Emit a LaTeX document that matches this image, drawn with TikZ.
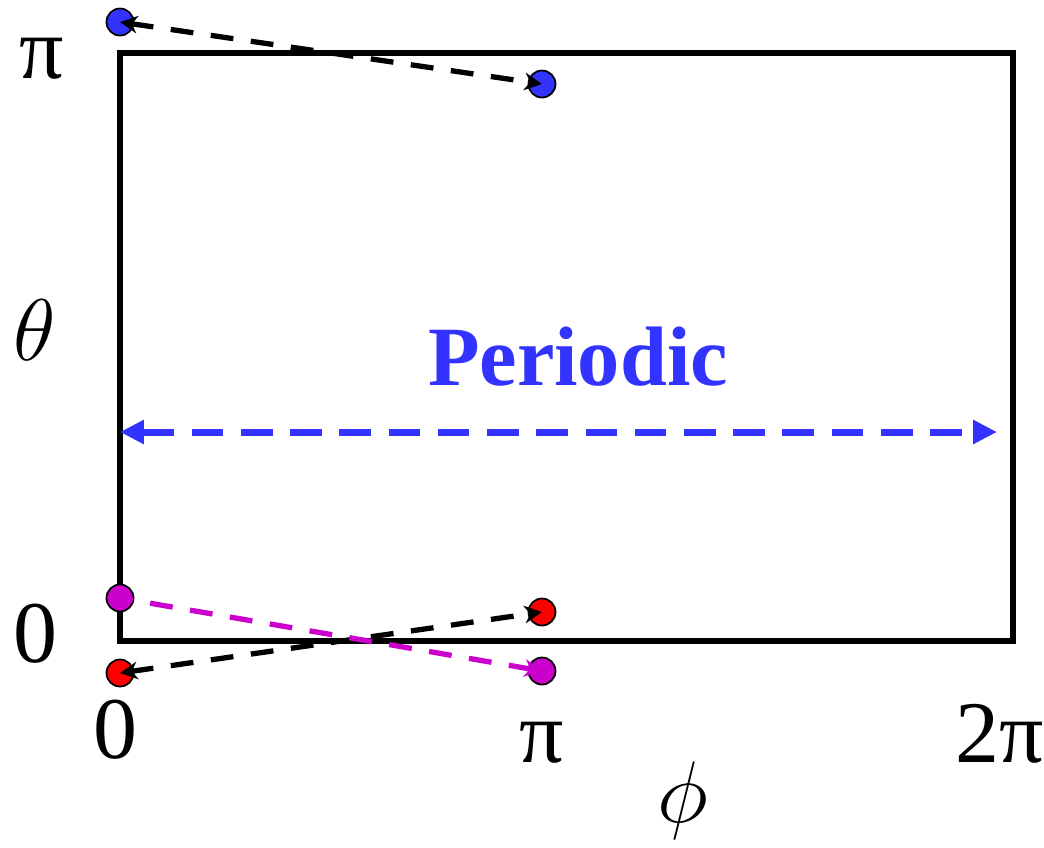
\documentclass[tikz,border=0pt]{standalone}
\usepackage{fontspec}
\setmainfont{Liberation Serif}
\usetikzlibrary{arrows.meta}
\definecolor{dotblue}{HTML}{3333FF}
\definecolor{dotred}{HTML}{FF0000}
\definecolor{dotmag}{HTML}{CC00CC}

\begin{document}
\begin{tikzpicture}[x=0.01cm, y=-0.01cm,
  dot/.style={circle, draw=black, line width=0.5pt, minimum size=0.27cm, inner sep=0pt},
  lbl/.style={anchor=base, font=\fontsize{25}{30}\selectfont},
  swap/.style={line width=1.5pt, dash pattern=on 6.5pt off 5pt,
    {Stealth[length=5pt, width=5pt]}-{Stealth[length=5pt, width=5pt]}}]
  \useasboundingbox (0,0) rectangle (1044,847);
  \draw[line width=1.5pt] (120,53) rectangle (1013,641);
  % the dots
  \node[dot, fill=dotblue] (bl) at (120,22) {};
  \node[dot, fill=dotblue] (br) at (542,84) {};
  \node[dot, fill=dotmag] (ml) at (120,598) {};
  \node[dot, fill=dotmag] (mr) at (542,671) {};
  \node[dot, fill=dotred] (rr) at (542,612) {};
  \node[dot, fill=dotred] (rl) at (120,673) {};
  \draw[swap] (bl.center) -- (br.center);
  \draw[swap] (rl.center) -- (rr.center);
  \draw[swap, dotmag, {Stealth[length=5pt, width=5pt]}-] (mr.center) -- (ml.center);
  % periodic
  \coordinate (pl) at (120,432);
  \coordinate (pr) at (997,432);
  \draw[dotblue, line width=2pt, dash pattern=on 9pt off 5pt,
    {Triangle[length=6.8pt, width=6.5pt]}-{Triangle[length=6.8pt, width=6.5pt]}] (pl) -- (pr);
  \node[dotblue, anchor=base, font=\fontsize{24}{28}\selectfont\bfseries] (per) at (578,385) {Periodic};
  % axis labels
  \node[lbl] (ytop) at (42,78) {π};
  \node[lbl] (yname) at (35,360) {$\theta$};
  \node[lbl] (ybot) at (35,662) {0};
  \node[lbl] (xl) at (115,758) {0};
  \node[lbl] (xm) at (542,762) {π};
  \node[lbl] (xr) at (1000,762) {2π};
  \node[lbl] (xname) at (683,822) {$\phi$};
\end{tikzpicture}
\end{document}
